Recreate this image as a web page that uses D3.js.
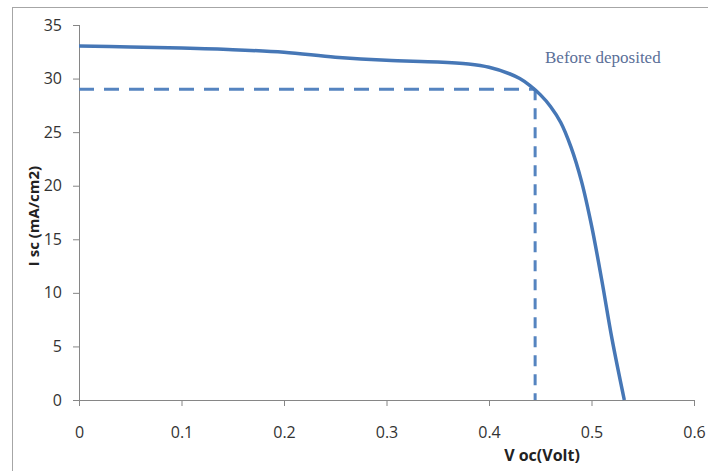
<!DOCTYPE html>
<html><head><meta charset="utf-8">
<script src="https://cdn.jsdelivr.net/npm/d3@7/dist/d3.min.js"></script>
<style>
html,body{margin:0;padding:0;background:#fff;}
svg{display:block;}
</style></head>
<body>
<svg id="chart" width="708" height="471"></svg>
<script>
// Data
const voltage = [0, 0.05, 0.1, 0.15, 0.2, 0.25, 0.3, 0.35, 0.38, 0.40, 0.42, 0.43, 0.44, 0.45, 0.46, 0.47, 0.48, 0.49, 0.50, 0.51, 0.52, 0.532];
const current = [33.05, 32.95, 32.85, 32.7, 32.45, 32.0, 31.7, 31.55, 31.35, 31.05, 30.45, 30.0, 29.35, 28.5, 27.4, 25.9, 23.6, 20.5, 16.3, 11.2, 5.7, 0];
const mppVoltage = [0, 0.445];
const mppCurrent = [29.0, 0];
const xTicks = [0, 0.1, 0.2, 0.3, 0.4, 0.5, 0.6];
const yTicks = [0, 5, 10, 15, 20, 25, 30, 35];
const seriesLabel = "Before deposited";
const xTitle = "V oc(Volt)";
const yTitle = "I sc (mA/cm2)";

const svg = d3.select("#chart");

// outer border
svg.append("rect").attr("x", 12.5).attr("y", 7.5).attr("width", 760).attr("height", 520)
  .attr("fill", "none").attr("stroke", "#a6a6a6").attr("stroke-width", 1);

const x = d3.scaleLinear().domain([0, 0.6]).range([79, 694]);
const y = d3.scaleLinear().domain([0, 35]).range([400, 25]);

const axisColor = "#868686";
const tickFont = "'Open Sans', sans-serif";

// y axis
const gy = svg.append("g").attr("transform", `translate(${x(0)},0)`)
  .call(d3.axisLeft(y).tickValues(yTicks).tickSize(6).tickPadding(11).tickFormat(d3.format("d")));
gy.select(".domain").attr("stroke", axisColor).attr("d", `M0.5,${y(35)}V${y(0)}`);
gy.selectAll(".tick line").attr("stroke", axisColor);
gy.selectAll(".tick text").attr("fill", "#333").style("font-family", tickFont).style("font-size", "16px");

// x axis
const gx = svg.append("g").attr("transform", `translate(0,${y(0)})`)
  .call(d3.axisBottom(x).tickValues(xTicks).tickSize(6).tickPadding(21).tickFormat(d => d === 0 ? "0" : d3.format(".1f")(d)));
gx.select(".domain").attr("stroke", axisColor).attr("d", `M${x(0)},0.5H${x(0.6)}`);
gx.selectAll(".tick line").attr("stroke", axisColor);
gx.selectAll(".tick text").attr("fill", "#333").style("font-family", tickFont).style("font-size", "16px");

// dashed guide lines (max power point)
const dashColor = "#5584c0";
svg.append("line")
  .attr("x1", x(mppVoltage[0])).attr("y1", y(mppCurrent[0]))
  .attr("x2", x(mppVoltage[1])).attr("y2", y(mppCurrent[0]))
  .attr("stroke", dashColor).attr("stroke-width", 3).attr("stroke-dasharray", "15,10");
svg.append("line")
  .attr("x1", x(mppVoltage[1])).attr("y1", y(mppCurrent[0]))
  .attr("x2", x(mppVoltage[1])).attr("y2", y(mppCurrent[1]))
  .attr("stroke", dashColor).attr("stroke-width", 3).attr("stroke-dasharray", "11,8");

// I-V curve
const pts = voltage.map((v, i) => [v, current[i]]);
const line = d3.line().x(d => x(d[0])).y(d => y(d[1])).curve(d3.curveCatmullRom.alpha(0.5));
svg.append("path").datum(pts).attr("d", line)
  .attr("fill", "none").attr("stroke", "#4677b6").attr("stroke-width", 3.5)
  .attr("stroke-linejoin", "round");

// series label
svg.append("text").attr("x", 545).attr("y", 63).text(seriesLabel)
  .attr("fill", "#5b6f98").style("font-family", "'Liberation Serif', 'Times New Roman', serif").style("font-size", "17px");

// axis titles
svg.append("text").attr("x", 542).attr("y", 461).attr("text-anchor", "middle").text(xTitle)
  .attr("fill", "#222").style("font-family", tickFont).style("font-weight", "bold").style("font-size", "16px");
svg.append("text").attr("transform", "translate(39,216) rotate(-90)").attr("text-anchor", "middle").text(yTitle)
  .attr("fill", "#222").style("font-family", tickFont).style("font-weight", "bold").style("font-size", "15px");
</script>
</body></html>
